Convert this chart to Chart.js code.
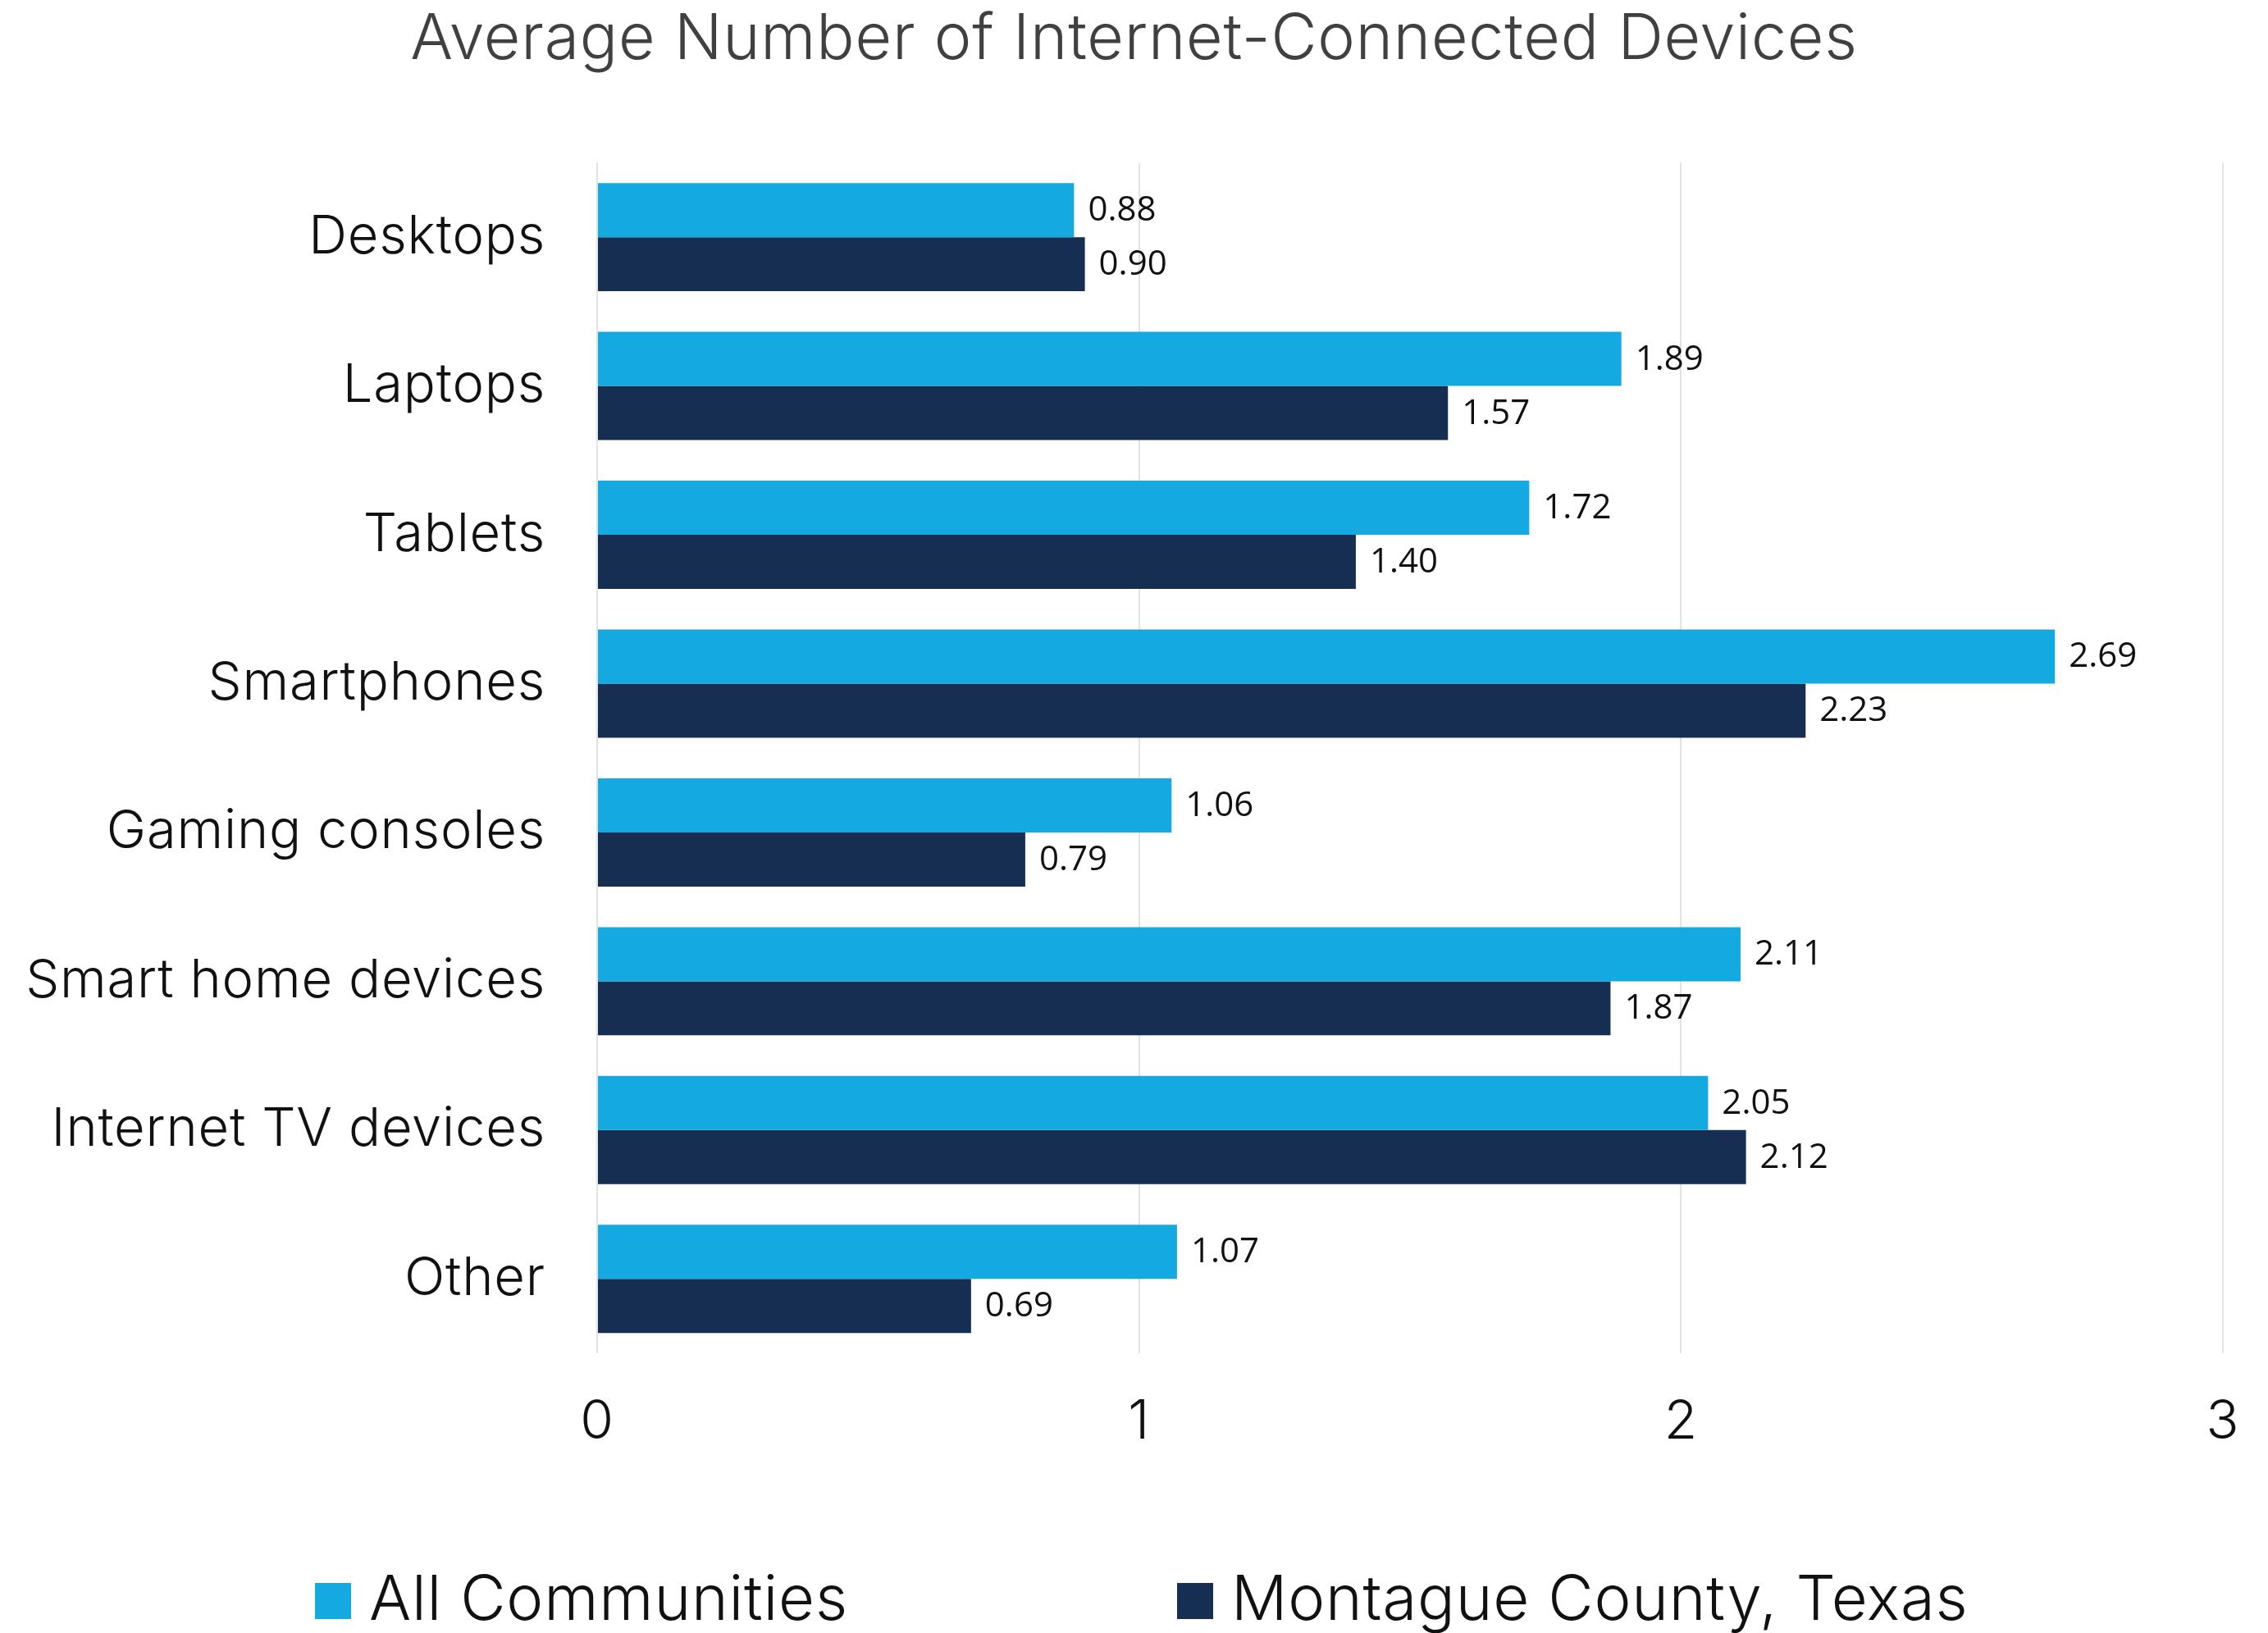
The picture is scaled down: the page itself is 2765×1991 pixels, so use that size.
<!DOCTYPE html>
<html>
<head>
<meta charset="utf-8">
<script src="https://cdn.jsdelivr.net/npm/chart.js@4.4.1/dist/chart.umd.min.js"></script>
<style>
  html, body { margin: 0; padding: 0; background: #ffffff; }
  #wrap { width: 2765px; height: 1991px; position: relative; }
</style>
</head>
<body>
<div id="wrap"><canvas id="myChart" width="2765" height="1991"></canvas></div>
<script>
(function () {
    'use strict'

    const categories = ['Desktops', 'Laptops', 'Tablets', 'Smartphones', 'Gaming consoles', 'Smart home devices', 'Internet TV devices', 'Other']
    const allCommunities = [0.88, 1.89, 1.72, 2.69, 1.06, 2.11, 2.05, 1.07]
    const montague = [0.90, 1.57, 1.40, 2.23, 0.79, 1.87, 2.12, 0.69]
    const seriesNames = ['All Communities', 'Montague County, Texas']
    const xTicks = [0, 1, 2, 3]

    const colors = ['#14a9e1', '#162e52']
    const lightFont = 'Inter'

    // slight letter spacing for the light text, off again for value labels
    const spacing = {
        id: 'spacing',
        beforeDraw(chart) { chart.ctx.letterSpacing = '0.8px' }
    }

    // value labels at the end of every bar
    const valueLabels = {
        id: 'valueLabels',
        afterDatasetsDraw(chart) {
            const ctx = chart.ctx
            ctx.save()
            ctx.letterSpacing = '0px'
            ctx.font = '42px "Open Sans"'
            ctx.fillStyle = '#111111'
            ctx.textAlign = 'left'
            ctx.textBaseline = 'middle'
            chart.data.datasets.forEach((ds, i) => {
                chart.getDatasetMeta(i).data.forEach((bar, j) => {
                    ctx.fillText(ds.data[j].toFixed(2), bar.x + 17, bar.y + 1)
                })
            })
            ctx.restore()
        }
    }

    // legend with wide spacing between the two items
    const wideLegend = {
        id: 'wideLegend',
        afterDraw(chart) {
            const ctx = chart.ctx
            const starts = [384, 1435]
            const cy = 1952
            ctx.save()
            ctx.letterSpacing = '0.8px'
            ctx.font = '300 76px ' + lightFont
            ctx.textBaseline = 'middle'
            ctx.textAlign = 'left'
            chart.data.datasets.forEach((ds, i) => {
                ctx.fillStyle = ds.backgroundColor
                ctx.fillRect(starts[i], cy - 22, 44, 44)
                ctx.fillStyle = '#111111'
                ctx.fillText(ds.label, starts[i] + 66, cy)
            })
            ctx.restore()
        }
    }

    const data = {
        labels: categories,
        datasets: [
            {label: seriesNames[0], data: allCommunities, backgroundColor: colors[0]},
            {label: seriesNames[1], data: montague, backgroundColor: colors[1]}
        ]
    }

    const config = {
        type: 'bar',
        data: data,
        plugins: [spacing, valueLabels, wideLegend],
        options: {
            indexAxis: 'y',
            responsive: false,
            animation: false,
            layout: {padding: 0},
            datasets: {
                bar: {categoryPercentage: 0.727, barPercentage: 1.0}
            },
            plugins: {
                legend: {display: false},
                tooltip: {enabled: false},
                title: {
                    display: true,
                    text: 'Average Number of Internet-Connected Devices',
                    color: '#404040',
                    font: {family: lightFont, size: 77, weight: '300', lineHeight: 1.2},
                    padding: {top: 3, bottom: 103}
                }
            },
            scales: {
                x: {
                    type: 'linear',
                    position: 'bottom',
                    min: xTicks[0],
                    max: xTicks[xTicks.length - 1],
                    afterBuildTicks: (scale) => { scale.ticks = xTicks.map(v => ({value: v})) },
                    afterFit: (scale) => {
                        scale.height = 341
                        scale.paddingLeft = 0
                        scale.paddingRight = 55
                    },
                    grid: {color: '#e3e3e3', lineWidth: 2, drawTicks: false},
                    border: {display: false},
                    ticks: {
                        color: '#111111',
                        padding: 45,
                        font: {family: lightFont, size: 66, weight: '300', lineHeight: 1.2}
                    }
                },
                y: {
                    afterFit: (scale) => { scale.width = 728 },
                    grid: {display: false, drawTicks: false},
                    border: {display: false},
                    ticks: {
                        color: '#111111',
                        padding: 63,
                        font: {family: lightFont, size: 65, weight: '300'}
                    }
                }
            }
        }
    }

    const myChart = new Chart(
        document.getElementById('myChart').getContext('2d'),
        config
    )
})()
</script>
</body>
</html>
